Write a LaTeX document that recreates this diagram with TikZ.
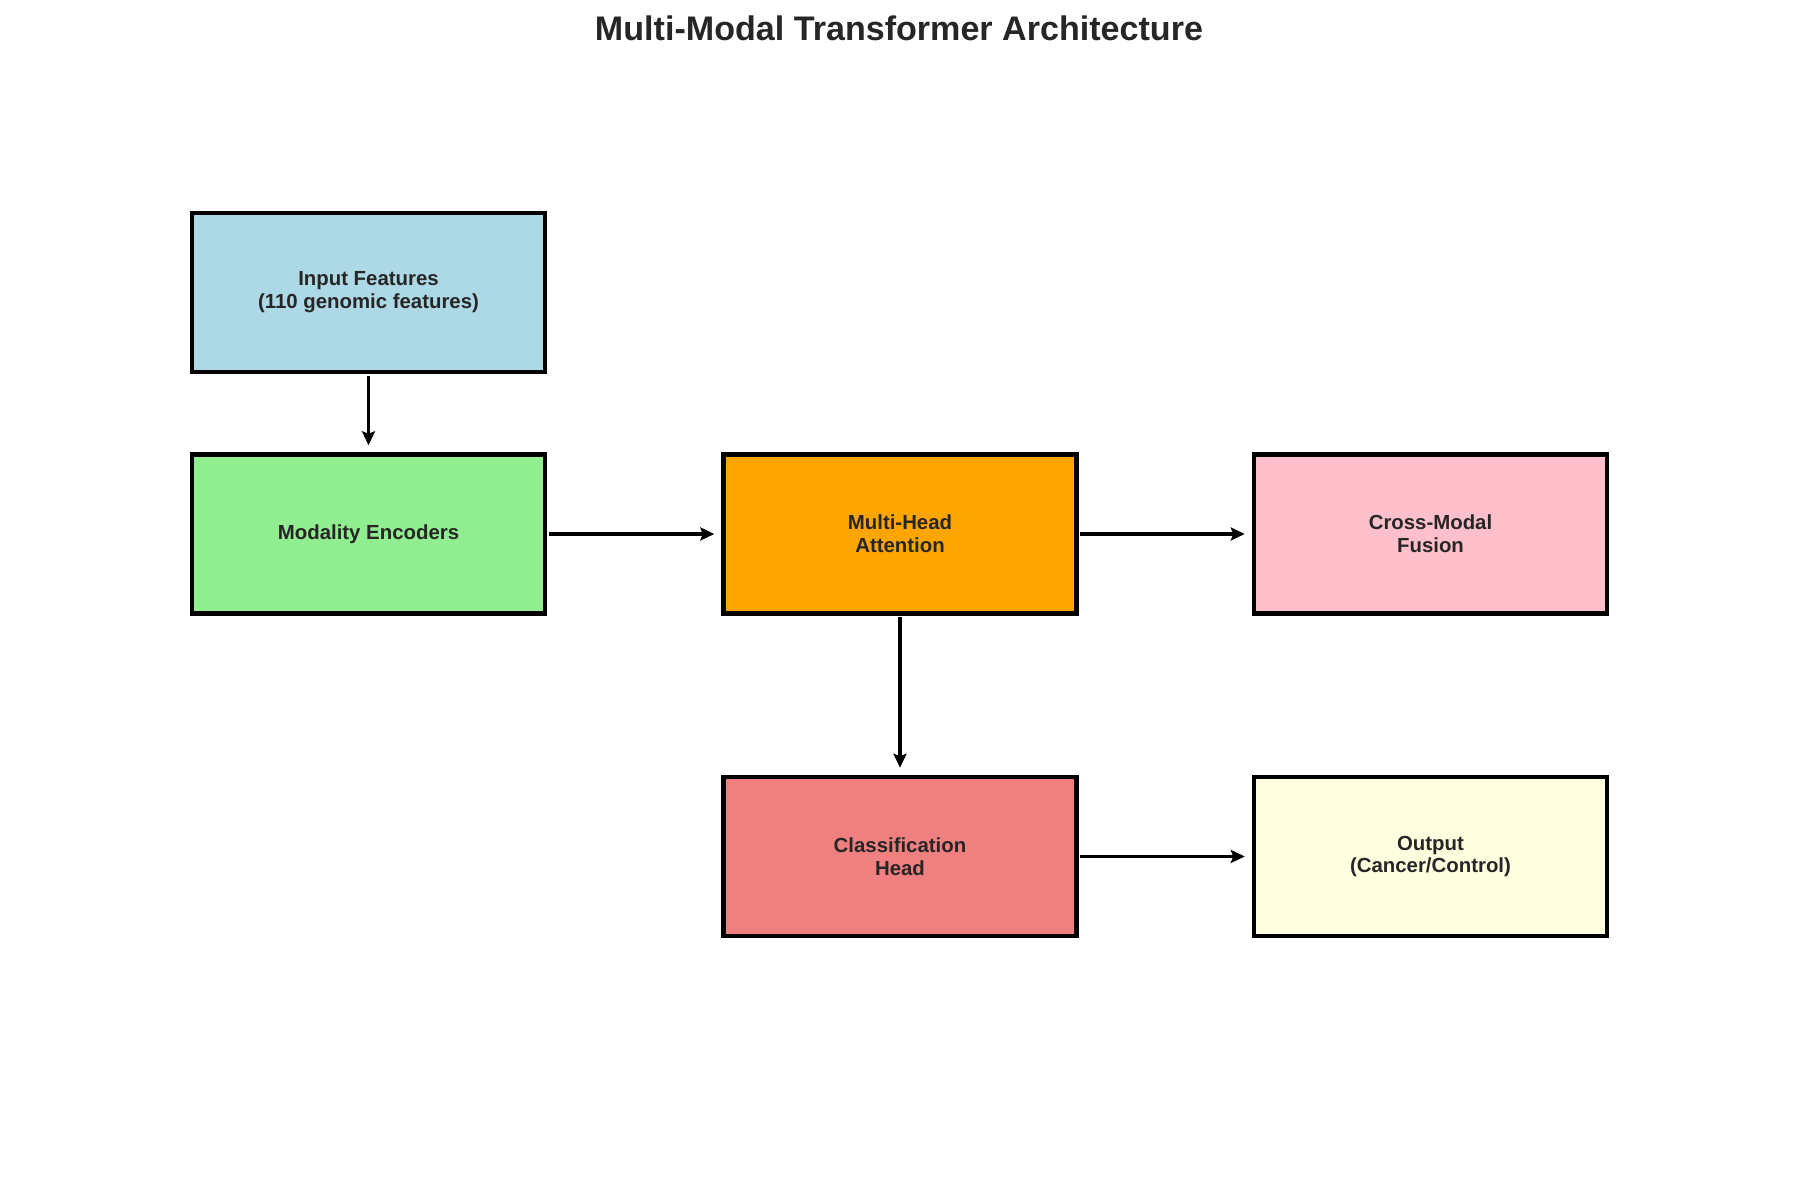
\documentclass[tikz,border=0pt]{standalone}
\usepackage{fontspec}
\setmainfont{Liberation Sans}
\usepackage{xcolor}
\usetikzlibrary{arrows.meta, positioning}
\definecolor{txtgray}{HTML}{262626}
\definecolor{lblue}{HTML}{ADD8E6}
\definecolor{lgreen}{HTML}{90EE90}
\definecolor{lorange}{HTML}{FFA500}
\definecolor{lpink}{HTML}{FFC0CB}
\definecolor{lcoral}{HTML}{F08080}
\definecolor{lyellow}{HTML}{FFFFE0}
\tikzset{
    block/.style={draw=black, line width=2.5pt, minimum width=7.06cm, minimum height=3.18cm,
        align=center, text=txtgray, font=\fontsize{11.6}{13}\selectfont\bfseries},
    flow/.style={-{Stealth[length=0.28cm, width=0.26cm, inset=0.05cm]}, line width=2pt,
        shorten >=4pt, shorten <=1pt}
}

\begin{document}
\begin{tikzpicture}
                        \useasboundingbox (0,0) rectangle (36.16,24);
                        \node[text=txtgray, font=\fontsize{19.4}{24}\selectfont\bfseries] (title) at (17.98, 23.44) {Multi-Modal Transformer Architecture};

                        \node[block, fill=lblue] (inp) at (7.37, 18.15) {Input Features\\(110 genomic features)};
                        \node[block, fill=lgreen] (enc) at (7.37, 13.32) {Modality Encoders};
                        \node[block, fill=lorange] (att) at (18.0, 13.32) {Multi-Head\\Attention};
                        \node[block, fill=lpink] (fus) at (28.61, 13.32) {Cross-Modal\\Fusion};
                        \node[block, fill=lcoral] (cls) at (18.0, 6.87) {Classification\\Head};
                        \node[block, fill=lyellow] (out) at (28.61, 6.87) {Output\\(Cancer/Control)};

                        \draw[flow] (inp) -- (enc);
                        \draw[flow] (enc) -- (att);
                        \draw[flow] (att) -- (fus);
                        \draw[flow] (att) -- (cls);
                        \draw[flow] (cls) -- (out);
                    \end{tikzpicture}
\end{document}
